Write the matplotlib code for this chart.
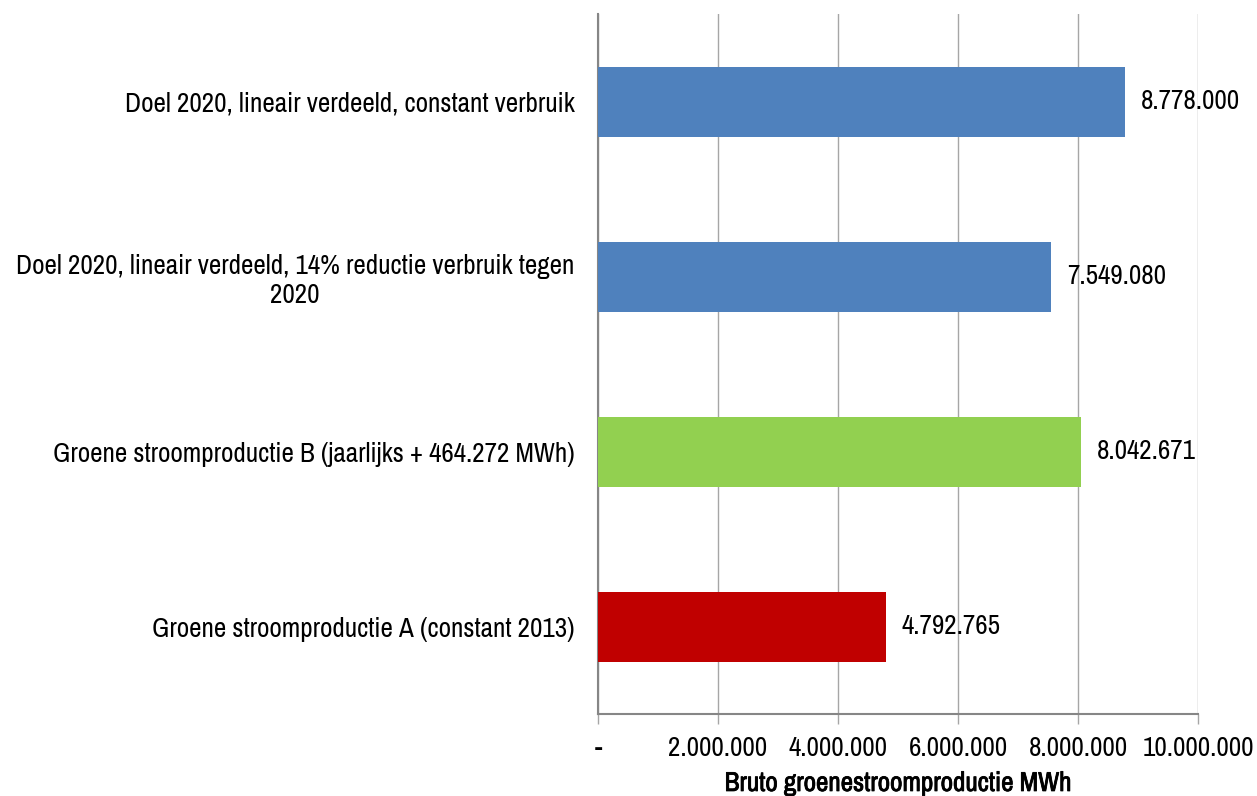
import matplotlib
matplotlib.use("Agg")
import matplotlib.pyplot as plt
import matplotlib.patheffects as pe
from matplotlib.ticker import FuncFormatter

# ── Data ───────────────────────────────────────────────────────────────────────
categories = [
    "Groene stroomproductie A (constant 2013)",
    "Groene stroomproductie B (jaarlijks + 464.272 MWh)",
    "Doel 2020, lineair verdeeld, 14% reductie verbruik tegen\n2020",
    "Doel 2020, lineair verdeeld, constant verbruik",
]
values = [4792765, 8042671, 7549080, 8778000]
bar_colors = ["#C00000", "#92D050", "#4F81BD", "#4F81BD"]
x_ticks = [0, 2000000, 4000000, 6000000, 8000000, 10000000]

FONT = ["Archivo Narrow", "DejaVu Sans"]
FS = 19.5
GRID = "#A6A6A6"
SPINE = "#868686"


def dutch(v):
    """Format a number with dots as thousands separators, '-' for zero."""
    if v == 0:
        return "-"
    return f"{int(round(v)):,}".replace(",", ".")


plt.rcParams["font.family"] = FONT
plt.rcParams["font.stretch"] = "condensed"

fig = plt.figure(figsize=(12.57, 7.96), dpi=100)
ax = fig.add_axes([598 / 1257, 1 - 714 / 796, 600 / 1257, 700 / 796])

ypos = list(range(len(categories)))
bars = ax.barh(ypos, values, height=0.4, color=bar_colors, zorder=3)

for bar, val in zip(bars, values):
    ax.text(bar.get_width() + 270000, bar.get_y() + bar.get_height() / 2,
            dutch(val), va="center", ha="left", fontsize=FS, color="#000000",
            zorder=4)

ax.set_ylim(-0.5, len(categories) - 0.5)
ax.set_xlim(0, 10000000)
ax.set_xticks(x_ticks)
ax.xaxis.set_major_formatter(FuncFormatter(lambda v, _: dutch(v)))
ax.set_yticks(ypos)
ax.set_yticklabels(categories, fontsize=FS, multialignment="center")

ax.tick_params(axis="y", length=0, pad=17)
ax.tick_params(axis="x", length=7, width=1, color=GRID, pad=9,
               labelsize=FS, direction="out")

ax.grid(axis="x", color=GRID, linewidth=1, zorder=0)
ax.set_axisbelow(True)
for side in ("top", "right"):
    ax.spines[side].set_visible(False)
ax.spines["left"].set_color(SPINE)
ax.spines["left"].set_linewidth(1.5)
ax.spines["bottom"].set_color(SPINE)
ax.spines["bottom"].set_linewidth(1.5)

# the narrow face has no bold cut, so thicken the axis title with a stroke
xl = ax.set_xlabel("Bruto groenestroomproductie MWh", fontsize=FS,
                   labelpad=7)
xl.set_path_effects([pe.withStroke(linewidth=0.6, foreground="black")])

fig.savefig("out.png", dpi=100, facecolor="white")
